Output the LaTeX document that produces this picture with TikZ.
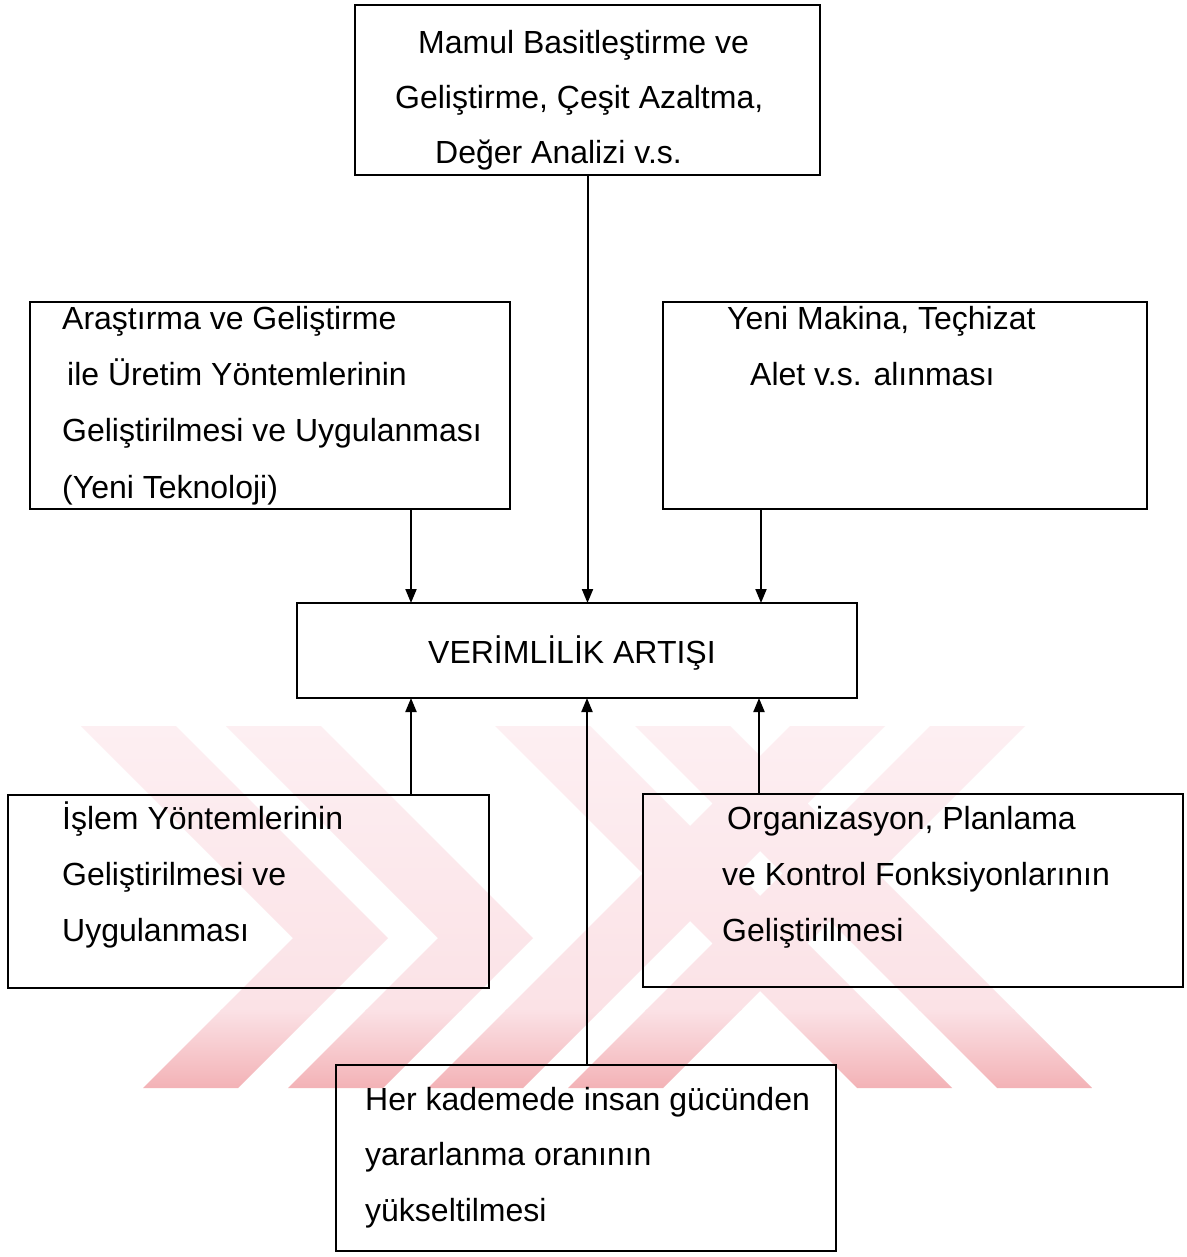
\documentclass[tikz,border=0pt]{standalone}
\usepackage{fontspec}
\setmainfont{Liberation Sans}
\usetikzlibrary{arrows.meta}
\definecolor{wmtop}{RGB}{253,239,242}
\definecolor{wmmid}{RGB}{251,226,230}
\definecolor{wmbot}{RGB}{243,178,182}
\begin{document}
\begin{tikzpicture}[x=1pt,y=-1pt,
  box/.style={draw, line width=2.8pt, rectangle, inner sep=0pt, outer sep=0pt},
  arr/.style={line width=2pt, -{Triangle[length=14pt,width=11pt]}},
  txt/.style={anchor=base west, inner sep=0pt, font=\fontsize{32}{38}\selectfont}]
\useasboundingbox (0,0) rectangle (1186,1257);
\fill[white] (0,0) rectangle (1186,1257);

% watermark: double chevron and double-striped cross
\begin{scope}
\clip (81,726) -- (176,726) -- (388,938) -- (238,1088) -- (143,1088) -- (293,938) -- cycle
      (226,726) -- (321,726) -- (533,938) -- (383,1088) -- (288,1088) -- (438,938) -- cycle
      (495,726) -- (590,726) -- (952,1088) -- (857,1088) -- cycle
      (635,726) -- (730,726) -- (1092,1088) -- (997,1088) -- cycle
      (790,726) -- (885,726) -- (523,1088) -- (428,1088) -- cycle
      (930,726) -- (1025,726) -- (663,1088) -- (568,1088) -- cycle;
\shade[top color=wmtop, bottom color=wmmid] (0,726) rectangle (1186,1010);
\shade[top color=wmmid, bottom color=wmbot] (0,1009) rectangle (1186,1088);
\end{scope}

% boxes
\node[box, minimum width=465pt, minimum height=170pt] (top) at (587.5,90) {};
\node[box, minimum width=480pt, minimum height=207pt] (lft) at (270,405.5) {};
\node[box, minimum width=484pt, minimum height=207pt] (rgt) at (905,405.5) {};
\node[box, minimum width=560pt, minimum height=95pt] (ctr) at (577,650.5) {};
\node[box, minimum width=481pt, minimum height=193pt] (ll) at (248.5,891.5) {};
\node[box, minimum width=540pt, minimum height=193pt] (lr) at (913,890.5) {};
\node[box, minimum width=500pt, minimum height=186pt] (bot) at (586,1158) {};

% texts
\node[txt] (t1a) at (418,54) {Mamul Basitleştirme ve};
\node[txt] (t1b) at (395,109) {Geliştirme, Çeşit Azaltma,};
\node[txt] (t1c) at (435,164) {Değer Analizi v.s.};

\node[txt] (t2a) at (62,329) {Araştırma ve Geliştirme};
\node[txt] (t2b) at (67,385) {ile Üretim Yöntemlerinin};
\node[txt] (t2c) at (62,441) {Geliştirilmesi ve Uygulanması};
\node[txt] (t2d) at (62,498) {(Yeni Teknoloji)};

\node[txt] (t3a) at (727,329) {Yeni Makina, Teçhizat};
\node[txt] (t3b) at (750,385) {Alet v.s. alınması};

\node[txt] (t4) at (428,663) {VERİMLİLİK ARTIŞI};

\node[txt] (t5a) at (62,829) {İşlem Yöntemlerinin};
\node[txt] (t5b) at (62,885) {Geliştirilmesi ve};
\node[txt] (t5c) at (62,941) {Uygulanması};

\node[txt] (t6a) at (727,829) {Organizasyon, Planlama};
\node[txt] (t6b) at (722,885) {ve Kontrol Fonksiyonlarının};
\node[txt] (t6c) at (722,941) {Geliştirilmesi};

\node[txt] (t7a) at (365,1110) {Her kademede insan gücünden};
\node[txt] (t7b) at (365,1165) {yararlanma oranının};
\node[txt] (t7c) at (365,1221) {yükseltilmesi};

% connector x positions
\coordinate (xa) at (411,0);
\coordinate (xc) at (761,0);
\coordinate (xe) at (587,0);
\coordinate (xf) at (759,0);

\draw[arr] (top.south) -- (top.south |- ctr.north);
\draw[arr] (lft.south -| xa) -- (ctr.north -| xa);
\draw[arr] (rgt.south -| xc) -- (ctr.north -| xc);
\draw[arr] (ll.north -| xa) -- (ctr.south -| xa);
\draw[arr] (bot.north -| xe) -- (ctr.south -| xe);
\draw[arr] (lr.north -| xf) -- (ctr.south -| xf);
\end{tikzpicture}
\end{document}
